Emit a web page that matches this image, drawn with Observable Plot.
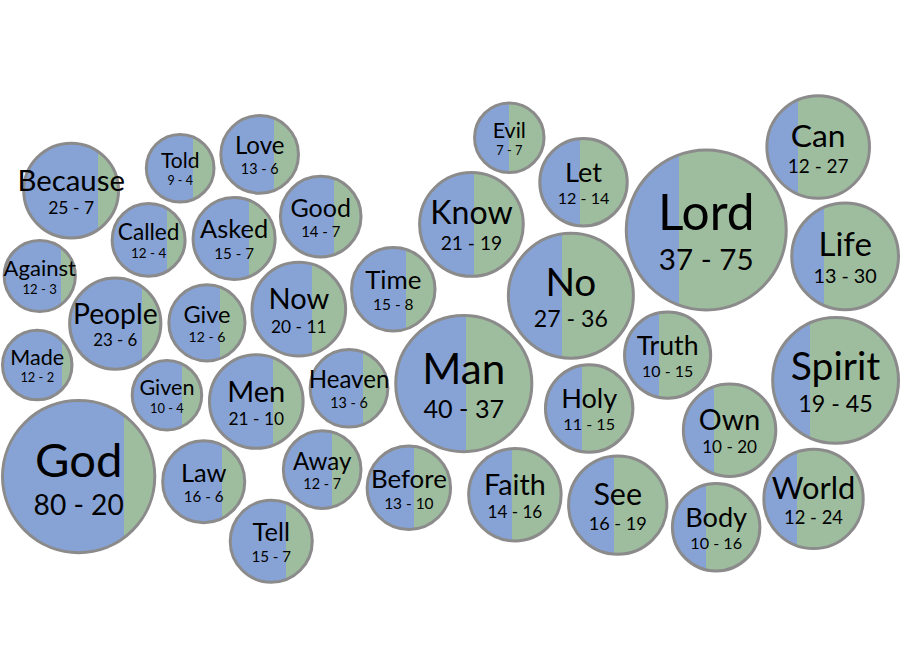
<!DOCTYPE html>
<html><head><meta charset="utf-8">
<script src="https://cdn.jsdelivr.net/npm/d3@7"></script>
<script src="https://cdn.jsdelivr.net/npm/@observablehq/plot@0.6"></script>
<style>
html,body{margin:0;padding:0;background:#fff;}
#chart svg{display:block;overflow:hidden;}
</style></head><body><div id="chart"></div>
<script>
const words = ["Made","Against","Because","God","Called","People","Told","Given","Law","Love","Give","Men","Heaven","Asked","Good","Tell","Time","Now","Away","Before","Man","Know","Evil","Let","Faith","See","No","Holy","Body","Truth","Spirit","Lord","World","Can","Life","Own"];
const firstCounts = [12,12,25,80,12,23,9,10,16,13,12,21,13,15,14,15,15,20,12,13,40,21,7,12,14,16,27,11,10,10,19,37,12,12,13,10];
const secondCounts = [2,3,7,20,4,6,4,4,6,6,6,10,6,7,7,7,8,11,7,10,37,19,7,14,16,19,36,15,16,15,45,75,24,27,30,20];

const W = 900, H = 664, CY = 342;
const BLUE = "#87a3d5", GREEN = "#9ebd9f", STROKE = "#8b8b8b";
const FONT = "Lato";
const rOpts = {type: "sqrt", domain: [0, 112], range: [10, 80]};
const xOpts = {domain: [0, 1], range: [-244, 1276]};
const rScale = Plot.scale({r: rOpts});
const xScale = Plot.scale({x: xOpts});

const ctx = document.createElement("canvas").getContext("2d");
function textWidth(s, size) { ctx.font = `${size}px ${FONT}`; return ctx.measureText(s).width; }

const nodes = words.map((w, i) => {
  const a = firstCounts[i], b = secondCounts[i], t = a + b;
  const r = rScale.apply(t);
  const half = Math.max(r + 2, textWidth(w, r * 0.62) / 2 + 3);
  const tx = xScale.apply(b / t);
  return {word: w, a, b, total: t, share: b / t, blue: a / t, r, half, tx, x: tx, y: CY + (a / t - 0.5) * 30, idx: i};
});

function bounds() {
  let ns;
  function force() {
    for (const d of ns) {
      const lo = d.half, hi = W - d.half;
      if (d.x < lo) { d.x = lo; d.vx = 0; }
      if (d.x > hi) { d.x = hi; d.vx = 0; }
      const top = d.r + 2, bot = H - d.r - 2;
      if (d.y < top) { d.y = top; d.vy = 0; }
      if (d.y > bot) { d.y = bot; d.vy = 0; }
    }
  }
  force.initialize = n => ns = n;
  return force;
}

const sim = d3.forceSimulation(nodes)
  .force("x", d3.forceX(d => d.tx).strength(0.25))
  .force("y", d3.forceY(CY).strength(0.08))
  .force("collide", d3.forceCollide(d => d.r + 4).iterations(4))
  .force("bounds", bounds())
  .stop();
for (let i = 0; i < 500; i++) sim.tick();

nodes.forEach(d => {
  d.px = xScale.invert(d.x);
  d.grad = `url(#split-${d.idx})`;
  d.label = `${d.a} - ${d.b}`;
  d.numY = d.y + d.r * 0.5;
});

const svg = Plot.plot({
  width: W, height: H, margin: 0,
  x: {...xOpts, axis: null},
  y: {domain: [0, H], range: [0, H], axis: null},
  r: rOpts,
  color: {type: "identity"},
  style: {fontFamily: "Lato, sans-serif", background: "white", overflow: "hidden"},
  marks: [
    Plot.dot(nodes, {x: "px", y: "y", r: "total", fill: "grad", stroke: STROKE, strokeWidth: 3}),
    Plot.text(nodes, {x: "px", y: "y", text: "word", fontSize: d => d.r * 0.62, lineAnchor: "bottom", fill: "black"}),
    Plot.text(nodes, {x: "px", y: "numY", text: "label", fontSize: d => d.r * 0.37, lineAnchor: "bottom", fill: "black"})
  ]
});

const defs = d3.select(svg).insert("defs", ":first-child");
nodes.forEach(d => {
  const g = defs.append("linearGradient").attr("id", `split-${d.idx}`).attr("x1", 0).attr("x2", 1).attr("y1", 0).attr("y2", 0);
  g.append("stop").attr("offset", 0).attr("stop-color", BLUE);
  g.append("stop").attr("offset", d.blue).attr("stop-color", BLUE);
  g.append("stop").attr("offset", d.blue).attr("stop-color", GREEN);
  g.append("stop").attr("offset", 1).attr("stop-color", GREEN);
});
document.getElementById("chart").appendChild(svg);
</script></body></html>
